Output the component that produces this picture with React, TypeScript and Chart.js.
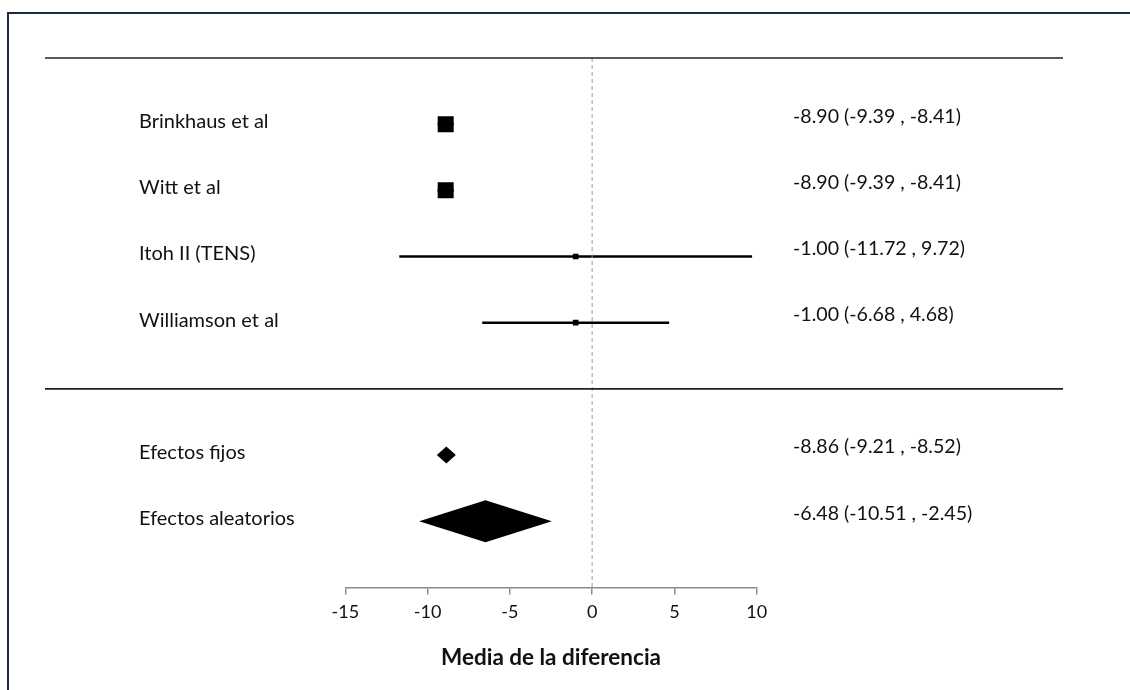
import React, { useEffect, useRef } from "react";
import { Chart, registerables } from "chart.js";

Chart.register(...registerables);

// ---- data ----
const studyNames = ["Brinkhaus et al", "Witt et al", "Itoh II (TENS)", "Williamson et al"];
const studyRows = [1, 2, 3, 4];
const studyMeans = [-8.9, -8.9, -1.0, -1.0];
const studyLower = [-9.39, -9.39, -11.72, -6.68];
const studyUpper = [-8.41, -8.41, 9.72, 4.68];

const pooledNames = ["Efectos fijos", "Efectos aleatorios"];
const pooledRows = [6, 7];
const pooledMeans = [-8.86, -6.48];
const pooledLower = [-9.21, -10.51];
const pooledUpper = [-8.52, -2.45];

const separatorRows = [0, 5];
const xTickValues = [-15, -10, -5, 0, 5, 10];
const xTitle = "Media de la diferencia";

// ---- styles ----
const FONT = "Lato, 'Open Sans', sans-serif";
const TEXT = "#111";
const studyMarkerRadius = [11.3, 11.3, 4, 4];
const pooledHalfHeight = [8.5, 21];
const pooledMinHalfWidth = [9.5, 0];

const fmt = (v: number) => v.toFixed(2);
const resultText = (m: number, lo: number, hi: number) => `${fmt(m)} (${fmt(lo)} , ${fmt(hi)})`;

const forestPlugin = {
  id: "forestDecor",
  afterDatasetsDraw(chart: any) {
    const { ctx } = chart;
    const xs = chart.scales.x;
    const ys = chart.scales.y;
    ctx.save();
    // separators
    ctx.strokeStyle = "#222";
    ctx.lineWidth = 1.6;
    separatorRows.forEach((r) => {
      const y = ys.getPixelForValue(r);
      ctx.beginPath();
      ctx.moveTo(45, y);
      ctx.lineTo(1063, y);
      ctx.stroke();
    });
    // pooled diamonds
    ctx.fillStyle = "#000";
    pooledRows.forEach((r, i) => {
      const cx = xs.getPixelForValue(pooledMeans[i]);
      let l = xs.getPixelForValue(pooledLower[i]);
      let h = xs.getPixelForValue(pooledUpper[i]);
      l = Math.min(l, cx - pooledMinHalfWidth[i]);
      h = Math.max(h, cx + pooledMinHalfWidth[i]);
      const cy = ys.getPixelForValue(r);
      const hh = pooledHalfHeight[i];
      ctx.beginPath();
      ctx.moveTo(l, cy);
      ctx.lineTo(cx, cy - hh);
      ctx.lineTo(h, cy);
      ctx.lineTo(cx, cy + hh);
      ctx.closePath();
      ctx.fill();
    });
    // texts
    ctx.fillStyle = TEXT;
    ctx.textBaseline = "middle";
    ctx.textAlign = "left";
    const drawRow = (name: string, res: string, r: number) => {
      const y = ys.getPixelForValue(r);
      ctx.font = `20px ${FONT}`;
      ctx.fillText(name, 139, y - 2.5);
      ctx.font = `19.6px ${FONT}`;
      ctx.fillText(res, 793, y - 8);
    };
    studyRows.forEach((r, i) =>
      drawRow(studyNames[i], resultText(studyMeans[i], studyLower[i], studyUpper[i]), r)
    );
    pooledRows.forEach((r, i) =>
      drawRow(pooledNames[i], resultText(pooledMeans[i], pooledLower[i], pooledUpper[i]), r)
    );
    ctx.restore();
  },
};

export default function App() {
  const ref = useRef<HTMLCanvasElement | null>(null);
  useEffect(() => {
    if (!ref.current) return;
    const datasets: any[] = [];
    datasets.push({
      label: "ref",
      data: [
        { x: 0, y: 0 },
        { x: 0, y: 8 },
      ],
      showLine: true,
      borderColor: "#9a9a9a",
      borderWidth: 1,
      borderDash: [4, 3],
      pointRadius: 0,
    });
    studyRows.forEach((r, i) => {
      datasets.push({
        label: "ci" + i,
        data: [
          { x: studyLower[i], y: r },
          { x: studyUpper[i], y: r },
        ],
        showLine: true,
        borderColor: "#000",
        borderWidth: 2.6,
        pointRadius: 0,
      });
    });
    datasets.push({
      label: "studies",
      data: studyRows.map((r, i) => ({ x: studyMeans[i], y: r })),
      pointStyle: "rect",
      pointRadius: studyMarkerRadius,
      backgroundColor: "#000",
      borderColor: "#000",
      borderWidth: 0,
    });
    const chart = new Chart(ref.current, {
      type: "scatter",
      data: { datasets },
      options: {
        animation: false,
        responsive: false,
        events: [],
        layout: { padding: { left: 345.3, right: 373.3, top: 58, bottom: 11 } },
        plugins: { legend: { display: false }, tooltip: { enabled: false } },
        scales: {
          x: {
            type: "linear",
            min: -15,
            max: 10,
            afterBuildTicks: (axis: any) => {
              axis.ticks = xTickValues.map((v) => ({ value: v }));
            },
            ticks: { color: TEXT, font: { family: FONT, size: 18 }, padding: 7 },
            grid: {
              display: true,
              drawOnChartArea: false,
              drawTicks: true,
              tickLength: 7,
              color: "#8c8c8c",
              lineWidth: 1.5,
            },
            border: { display: true, color: "#8c8c8c", width: 1.5 },
            title: {
              display: true,
              text: xTitle,
              color: TEXT,
              font: { family: FONT, size: 22.5, weight: "bold" },
              padding: { top: 14, bottom: 8 },
            },
          },
          y: { display: false, min: 0, max: 8, reverse: true },
        },
      },
      plugins: [forestPlugin],
    });
    return () => chart.destroy();
  }, []);
  return (
    <div style={{ position: "absolute", left: 0, top: 0, width: 1130, height: 690, background: "#fff", overflow: "hidden" }}>
      <div
        style={{
          position: "absolute",
          left: 7,
          top: 12,
          width: 1200,
          height: 800,
          borderTop: "2px solid #1b2a3e",
          borderLeft: "2px solid #1b2a3e",
        }}
      />
      <canvas ref={ref} width={1130} height={690} style={{ position: "absolute", left: 0, top: 0, width: 1130, height: 690 }} />
    </div>
  );
}
